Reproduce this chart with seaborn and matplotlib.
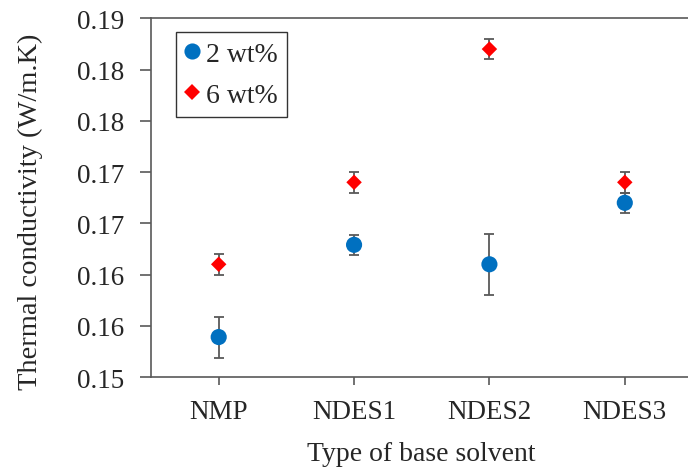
import numpy as np
import pandas as pd
import matplotlib
matplotlib.use("Agg")
import matplotlib.pyplot as plt
from matplotlib.lines import Line2D
import seaborn as sns

solvents = ["NMP", "NDES1", "NDES2", "NDES3"]
k_2wt = [0.1539, 0.1629, 0.1610, 0.1670]
err_2wt = [0.0020, 0.0010, 0.0030, 0.0010]
k_6wt = [0.1610, 0.1690, 0.1820, 0.1690]
err_6wt = [0.0010, 0.0010, 0.0010, 0.0010]

sns.set_style("white")
plt.rcParams['font.family'] = ['Liberation Serif', 'DejaVu Serif']

data = pd.DataFrame({
    "solvent": solvents * 2,
    "k": k_2wt + k_6wt,
    "err": err_2wt + err_6wt,
    "load": ["2 wt%"] * 4 + ["6 wt%"] * 4,
})
msize = {"2 wt%": 135, "6 wt%": 62}
mark = {"2 wt%": "o", "6 wt%": "D"}
colors = {"2 wt%": "#0070C0", "6 wt%": "#FF0000"}

fig = plt.figure(figsize=(6.88, 4.77), dpi=100)
ax = fig.add_axes([0.2195, 0.2075, 0.787, 0.752])

pos = {s: i for i, s in enumerate(solvents)}
# error bars first so markers sit on top
for load in ["2 wt%", "6 wt%"]:
    d = data[data["load"] == load]
    ax.errorbar(d["solvent"].map(pos), d["k"], yerr=d["err"], fmt="none",
                ecolor="#595959", elinewidth=1.3, capsize=3.6, capthick=1.3, zorder=2)

sns.scatterplot(data=data, x="solvent", y="k", hue="load", style="load",
                markers=mark, palette=colors,
                size="load", sizes=msize,
                edgecolor="none", ax=ax, zorder=3, legend=False)

ax.set_xlim(-0.5, 3.5)
ax.set_ylim(0.150, 0.185)
ticks = np.arange(0.150, 0.1851, 0.005)
ax.set_yticks(ticks)
ax.set_yticklabels(["%.2f" % (np.floor(t * 100 + 0.5 + 1e-9) / 100) for t in ticks])
ax.set_xticks(range(len(solvents)))
ax.set_xticklabels(solvents)

for sp in ax.spines.values():
    sp.set_color("#595959")
    sp.set_linewidth(1.2)
ax.tick_params(axis="y", direction="out", length=8, width=1.2, color="#595959",
               labelsize=19.5, pad=11, left=True)
ax.tick_params(axis="x", direction="out", length=6, width=1.2, color="#595959",
               labelsize=19.5, pad=10, bottom=True)

ax.set_xlabel("Type of base solvent", fontsize=20, labelpad=12)
ax.set_ylabel("Thermal conductivity (W/m.K)", fontsize=20.5)
ax.yaxis.set_label_coords(-0.1995, 0.462)

handles = [Line2D([], [], linestyle="none", marker=mark[k], color=colors[k],
                  markeredgewidth=0, markersize=np.sqrt(msize[k])) for k in msize]
leg = ax.legend(handles, list(msize),
                loc="upper left", bbox_to_anchor=(176 / 688, 1 - 33 / 477),
                bbox_transform=fig.transFigure, fontsize=20, frameon=True,
                fancybox=False, edgecolor="black", handletextpad=0.25,
                borderpad=0.33, labelspacing=0.58, handlelength=0.5, borderaxespad=0)
leg.get_frame().set_linewidth(1.0)

fig.savefig("out.png", dpi=100)
